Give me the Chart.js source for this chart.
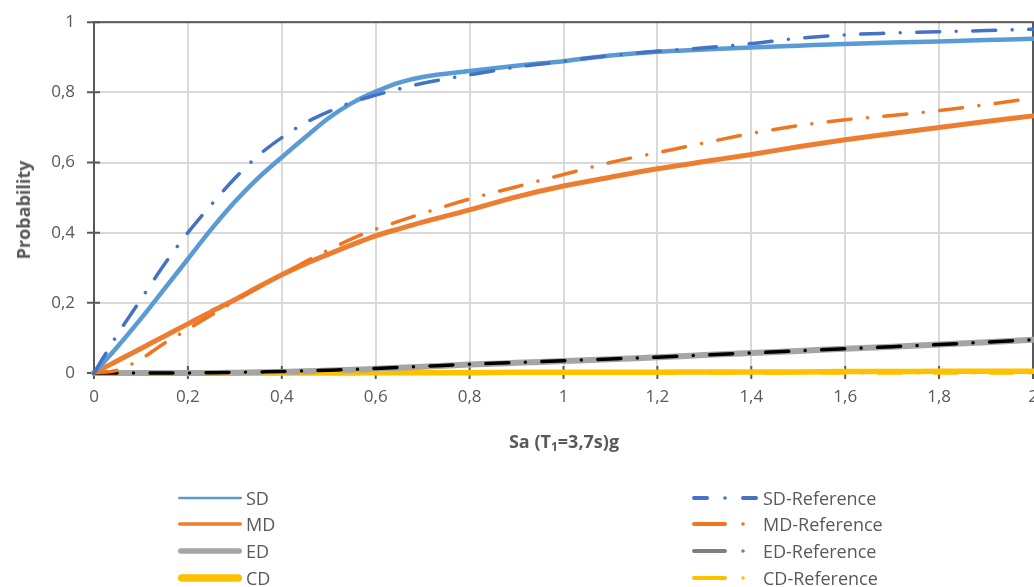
<!DOCTYPE html>
<html><head><meta charset="utf-8">
<script src="https://cdn.jsdelivr.net/npm/chart.js@4/dist/chart.umd.min.js"></script>
<style>
html,body{margin:0;padding:0;background:#fff;}
#wrap{position:relative;width:1034px;height:587px;overflow:hidden;font-family:"Open Sans",Lato,sans-serif;color:#595959;}
#c{position:absolute;left:0;top:0;}
.ytitle{position:absolute;left:23px;top:210px;transform:translate(-50%,-50%) rotate(-90deg);font-weight:bold;font-size:18px;white-space:nowrap;}
.xtitle{position:absolute;left:564px;top:442px;transform:translate(-50%,-50%);font-weight:bold;font-size:18px;white-space:nowrap;}
.xtitle sub{font-size:12px;vertical-align:-3px;}
.lg{position:absolute;height:22px;display:flex;align-items:center;font-size:18px;white-space:nowrap;}
.lg svg{display:block;}
</style></head>
<body>
<div id="wrap">
<canvas id="c" width="1034" height="587"></canvas>
<div class="ytitle">Probability</div>
<div class="xtitle">Sa (T<sub>1</sub>=3,7s)g</div>
<div id="legend"></div>
</div>
<script>
// ---- data ----
const sa      = [0,0.05,0.1,0.15,0.2,0.25,0.3,0.35,0.4,0.45,0.5,0.55,0.6,0.65,0.7,0.8,0.9,1.0,1.1,1.2,1.3,1.4,1.5,1.6,1.7,1.8,1.9,2.0];
const sdVals  = [0,0.075,0.155,0.24,0.325,0.41,0.488,0.556,0.615,0.672,0.727,0.77,0.802,0.828,0.844,0.861,0.876,0.889,0.905,0.916,0.922,0.928,0.933,0.938,0.942,0.945,0.949,0.953];
const mdVals  = [0,0.035,0.07,0.105,0.14,0.175,0.209,0.245,0.28,0.311,0.339,0.366,0.391,0.411,0.43,0.465,0.502,0.533,0.558,0.582,0.603,0.623,0.645,0.665,0.683,0.70,0.717,0.733];
const edVals  = [0,0,0,0,0,0,0.001,0.002,0.003,0.005,0.007,0.009,0.012,0.015,0.018,0.024,0.029,0.034,0.039,0.045,0.051,0.057,0.063,0.069,0.075,0.081,0.088,0.095];
const cdVals  = [0,0,0,0,0,0,0,0,0,0,0,0,0.001,0.001,0.001,0.001,0.002,0.002,0.002,0.002,0.003,0.003,0.003,0.004,0.004,0.005,0.005,0.005];
const sdRef   = [0,0.11,0.21,0.31,0.40,0.48,0.555,0.62,0.671,0.713,0.745,0.772,0.792,0.81,0.826,0.85,0.872,0.889,0.905,0.917,0.927,0.939,0.954,0.964,0.969,0.973,0.976,0.98];
const mdRef   = [0,0.008,0.04,0.085,0.125,0.165,0.205,0.243,0.28,0.317,0.351,0.383,0.41,0.433,0.455,0.496,0.531,0.566,0.6,0.628,0.656,0.683,0.705,0.722,0.734,0.748,0.765,0.783];
const edRef   = [0,0,0,0,0,0.001,0.002,0.003,0.004,0.006,0.008,0.01,0.013,0.016,0.019,0.025,0.03,0.035,0.04,0.045,0.051,0.057,0.063,0.069,0.075,0.081,0.088,0.095];
const cdRef   = [0,0,0,0,0,0,0,0,0,0,0,0,0,0,0,0,0,0,0,0,0,0,0,0,0,0,0,0];
const xTicks  = [0,0.2,0.4,0.6,0.8,1,1.2,1.4,1.6,1.8,2];
const yTicks  = [0,0.2,0.4,0.6,0.8,1];

const fmt = v => String(+(+v).toFixed(1)).replace('.', ',');
const pts = arr => arr.map((v,i)=>({x:sa[i], y:v}));
const DASH = [23,16.5,0.01,16.5];

const series = [
  {label:'SD', data:sdVals, color:'#5b9bd5', w:4.5, ref:false, lw:2.5},
  {label:'MD', data:mdVals, color:'#ed7d31', w:5, ref:false, lw:3.5},
  {label:'ED', data:edVals, color:'#a5a5a5', w:6, ref:false, lw:5.5},
  {label:'CD', data:cdVals, color:'#ffc000', w:5.5, ref:false, lw:7.5},
  {label:'SD-Reference', data:sdRef, color:'#4472c4', lcolor:'#4472c4', w:3.5, ref:true},
  {label:'MD-Reference', data:mdRef, color:'#ef7520', lcolor:'#ef7520', w:3.5, ref:true},
  {label:'ED-Reference', data:edRef, color:'#000000', lcolor:'#7f7f7f', w:3.5, ref:true},
  {label:'CD-Reference', data:cdRef, color:'#ffc000', lcolor:'#ffc000', w:3.5, ref:true}
];

const datasets = series.map(s => ({
  label:s.label, data:pts(s.data), borderColor:s.color, backgroundColor:s.color,
  borderWidth:s.w, pointRadius:0, pointHoverRadius:0, fill:false,
  cubicInterpolationMode:'monotone', borderCapStyle:'round', borderJoinStyle:'round',
  borderDash: s.ref ? DASH : [], order: s.ref ? 0 : 1, clip:8
}));

const frame = {
  id:'frame',
  beforeDatasetsDraw(chart){
    const {ctx, chartArea:a, scales:{x,y}} = chart;
    ctx.save();
    ctx.strokeStyle='#595959'; ctx.lineWidth=2;
    ctx.strokeRect(a.left, a.top, a.right-a.left, a.bottom-a.top);
    ctx.beginPath();
    y.ticks.forEach(t=>{const py=y.getPixelForValue(t.value); ctx.moveTo(a.left-7,py); ctx.lineTo(a.left+6,py);});
    x.ticks.forEach(t=>{const px=x.getPixelForValue(t.value); ctx.moveTo(px,a.bottom-7); ctx.lineTo(px,a.bottom+6);});
    ctx.stroke(); ctx.restore();
  }
};

new Chart(document.getElementById('c'), {
  type:'line',
  data:{datasets},
  plugins:[frame],
  options:{
    responsive:false, animation:false, devicePixelRatio:1,
    layout:{padding:{top:20,right:1,bottom:154,left:0}},
    plugins:{legend:{display:false}, tooltip:{enabled:false}},
    scales:{
      x:{type:'linear', min:0, max:2,
         afterBuildTicks:s=>{s.ticks = xTicks.map(v=>({value:v}));},
         ticks:{callback:fmt, color:'#595959', font:{family:'"Open Sans"', size:17}, padding:8, maxRotation:0, autoSkip:false},
         grid:{color:'#d9d9d9', lineWidth:2, tickLength:6, tickColor:'rgba(0,0,0,0)'},
         border:{display:false},
         afterFit:s=>{s.height=60; s.paddingLeft=0; s.paddingRight=0;}},
      y:{type:'linear', min:0, max:1,
         afterBuildTicks:s=>{s.ticks = yTicks.map(v=>({value:v}));},
         ticks:{callback:fmt, color:'#595959', font:{family:'"Open Sans"', size:17}, padding:12},
         grid:{color:'#d9d9d9', lineWidth:2, tickLength:7, tickColor:'rgba(0,0,0,0)'},
         border:{display:false},
         afterFit:s=>{s.width=94;}}
    }
  }
});

// ---- HTML legend (two columns) ----
const lg = document.getElementById('legend');
const rowsY = [498, 524, 551, 578];
series.forEach((s,i)=>{
  const row = i % 4;
  const div = document.createElement('div');
  div.className='lg';
  div.style.top = (rowsY[row]-11)+'px';
  let svg;
  if(!s.ref){
    div.style.left='176px';
    svg = `<svg width="70" height="20"><line x1="${2+s.lw/2}" y1="10" x2="${66-s.lw/2}" y2="10" stroke="${s.color}" stroke-width="${s.lw}" stroke-linecap="round"/></svg>`;
  } else {
    div.style.left='690px';
    const c = s.lcolor;
    if(i===4){
      svg = `<svg width="73" height="20"><line x1="4" y1="10" x2="17" y2="10" stroke="${c}" stroke-width="4" stroke-linecap="round"/><circle cx="35" cy="10" r="1.8" fill="${c}"/><line x1="53" y1="10" x2="66" y2="10" stroke="${c}" stroke-width="4" stroke-linecap="round"/></svg>`;
    } else {
      svg = `<svg width="73" height="20"><line x1="4" y1="10" x2="35" y2="10" stroke="${c}" stroke-width="4" stroke-linecap="round"/><circle cx="53" cy="10" r="1.8" fill="${c}"/></svg>`;
    }
  }
  div.innerHTML = svg + `<span>${s.label}</span>`;
  lg.appendChild(div);
});
</script>
</body></html>
